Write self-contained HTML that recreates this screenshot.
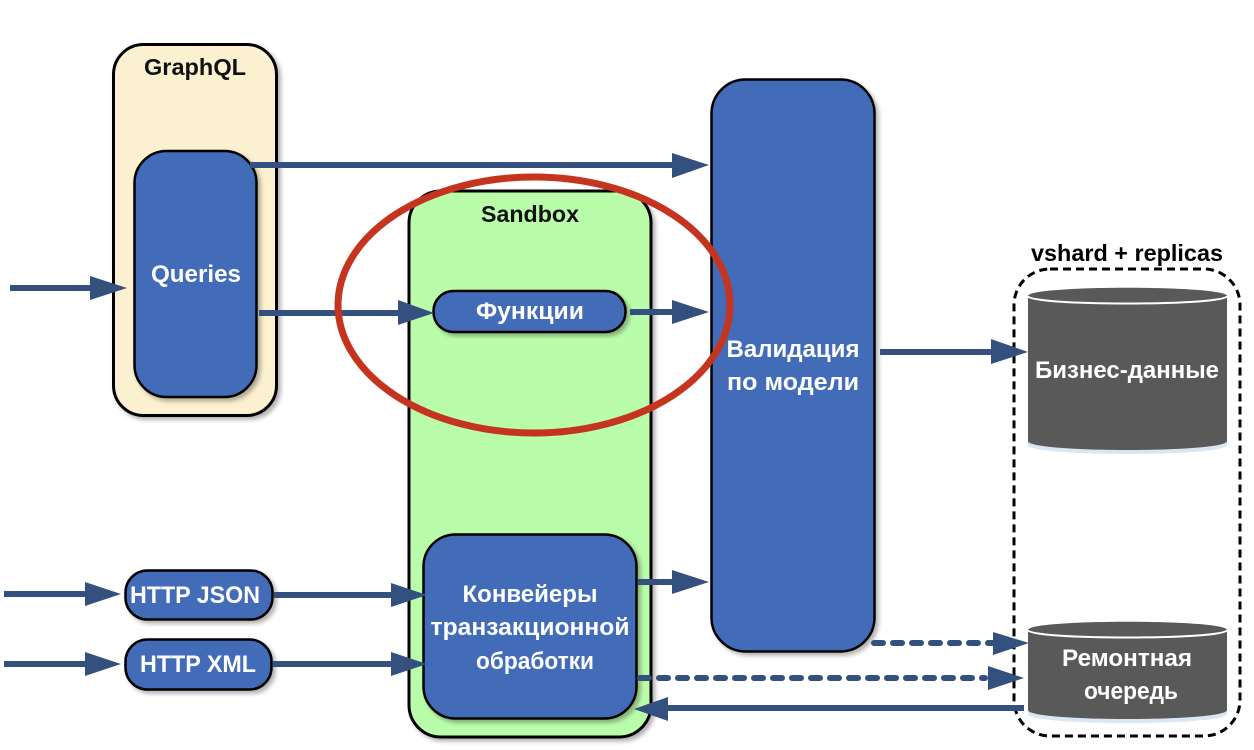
<!DOCTYPE html>
<html><head><meta charset="utf-8"><style>
html,body{margin:0;padding:0;background:#fff}
svg{display:block}
text{font-family:"Liberation Sans",sans-serif;font-weight:bold;text-anchor:middle}
.w{fill:#fff;font-size:24px}
.k{fill:#111;font-size:23px}
.l{stroke:#34507f;stroke-width:6;fill:none}
.d{stroke:#34507f;stroke-width:6;fill:none;stroke-linecap:round;stroke-dasharray:9 10}
.a{fill:#34507f}
.b{fill:#426cb8;stroke:#000;stroke-width:2.5}
.s{filter:url(#sh)}
</style></head><body>
<svg width="1254" height="750" viewBox="0 0 1254 750" xmlns="http://www.w3.org/2000/svg">
<defs><filter id="sh" x="-10%" y="-10%" width="125%" height="125%"><feDropShadow dx="3" dy="3" stdDeviation="2" flood-color="#000" flood-opacity=".3"/></filter></defs>
<rect width="1254" height="750" fill="#fff"/>

<rect x="113.5" y="44.5" width="163" height="371" rx="30" fill="#fbf1d0" stroke="#000" stroke-width="3" class="s"/>
<text class="k" x="195" y="75" textLength="102" lengthAdjust="spacingAndGlyphs">GraphQL</text>
<rect x="134.5" y="151" width="122" height="246" rx="32" class="b s"/>
<text class="w" x="196" y="282" textLength="90" lengthAdjust="spacingAndGlyphs">Queries</text>

<rect x="409" y="191" width="242" height="546" rx="32" fill="#b9fdaa" stroke="#000" stroke-width="3" class="s"/>
<text class="k" x="530" y="222" textLength="98" lengthAdjust="spacingAndGlyphs">Sandbox</text>

<rect x="433.5" y="291" width="192" height="41" rx="20" class="b s"/>
<text class="w" x="530" y="319" textLength="108" lengthAdjust="spacingAndGlyphs">Функции</text>

<rect x="423.5" y="534.5" width="213" height="184" rx="32" class="b s"/>
<text class="w" x="530" y="602" textLength="135" lengthAdjust="spacingAndGlyphs">Конвейеры</text>
<text class="w" x="530" y="635" textLength="199" lengthAdjust="spacingAndGlyphs">транзакционной</text>
<text class="w" x="535" y="669" textLength="118" lengthAdjust="spacingAndGlyphs">обработки</text>

<rect x="711.5" y="79.5" width="163" height="572" rx="34" class="b s"/>
<text class="w" x="793" y="357" textLength="133" lengthAdjust="spacingAndGlyphs">Валидация</text>
<text class="w" x="793" y="390" textLength="132" lengthAdjust="spacingAndGlyphs">по модели</text>

<rect x="125.5" y="570.5" width="147" height="49" rx="22" class="b s"/>
<text class="w" x="195" y="603" textLength="130" lengthAdjust="spacingAndGlyphs">HTTP JSON</text>
<rect x="125.5" y="639.5" width="146" height="50" rx="22" class="b s"/>
<text class="w" x="198" y="672" textLength="116" lengthAdjust="spacingAndGlyphs">HTTP XML</text>

<!-- storage -->
<text x="1127" y="261" font-size="23" fill="#000" textLength="192" lengthAdjust="spacingAndGlyphs">vshard + replicas</text>
<rect x="1014" y="269" width="226" height="467" rx="36" fill="none" stroke="#000" stroke-width="3" stroke-dasharray="8 5"/>

<path d="M1028 296C1028 285 1227 285 1227 296V445C1227 457 1028 457 1028 445Z" fill="#dbe6f3"/>
<path d="M1028 296C1028 285 1227 285 1227 296V441C1227 453 1028 453 1028 441Z" fill="#595959"/>
<path d="M1028 296C1028 306 1227 306 1227 296" fill="none" stroke="#fff" stroke-width="2"/>
<text class="w" x="1127" y="378" textLength="184" lengthAdjust="spacingAndGlyphs">Бизнес-данные</text>

<path d="M1028 630C1028 619 1227 619 1227 630V714C1227 726 1028 726 1028 714Z" fill="#dbe6f3"/>
<path d="M1028 630C1028 619 1227 619 1227 630V710C1227 722 1028 722 1028 710Z" fill="#595959"/>
<path d="M1028 630C1028 640 1227 640 1227 630" fill="none" stroke="#fff" stroke-width="2"/>
<text class="w" x="1127" y="666" textLength="130" lengthAdjust="spacingAndGlyphs">Ремонтная</text>
<text class="w" x="1131" y="699" textLength="94" lengthAdjust="spacingAndGlyphs">очередь</text>

<!-- connectors -->
<path class="l" d="M250 165H680"/><path class="a" d="M672 153L709 165L672 178Z"/>
<path class="l" d="M10 288H95"/><path class="a" d="M90 276L127 288L90 300Z"/>
<path class="l" d="M259 313H405"/><path class="a" d="M398 300L434 313L398 325Z"/>
<path class="l" d="M630 312H680"/><path class="a" d="M672 300L709 312L672 324Z"/>
<path class="l" d="M880 352H1000"/><path class="a" d="M991 339L1028 352L991 364Z"/>
<path class="l" d="M4 594H92"/><path class="a" d="M85 582L121 594L85 606Z"/>
<path class="l" d="M4 664H92"/><path class="a" d="M85 652L121 664L85 676Z"/>
<path class="l" d="M274 595H398"/><path class="a" d="M391 583L427 595L391 607Z"/>
<path class="l" d="M273 664H398"/><path class="a" d="M391 652L427 664L391 676Z"/>
<path class="l" d="M638 582H680"/><path class="a" d="M672 570L709 582L672 594Z"/>
<path class="d" d="M874 643H994"/><path class="a" d="M993 632L1029 643L993 655Z"/>
<path class="d" d="M640 678H985"/><path class="a" d="M988 666L1024 678L988 690Z"/>
<path class="l" d="M1024 708H660"/><path class="a" d="M668 697L634 709L668 721Z"/>

<ellipse cx="534" cy="305" rx="196" ry="128" fill="none" stroke="#c5341f" stroke-width="7"/>
</svg>
</body></html>
